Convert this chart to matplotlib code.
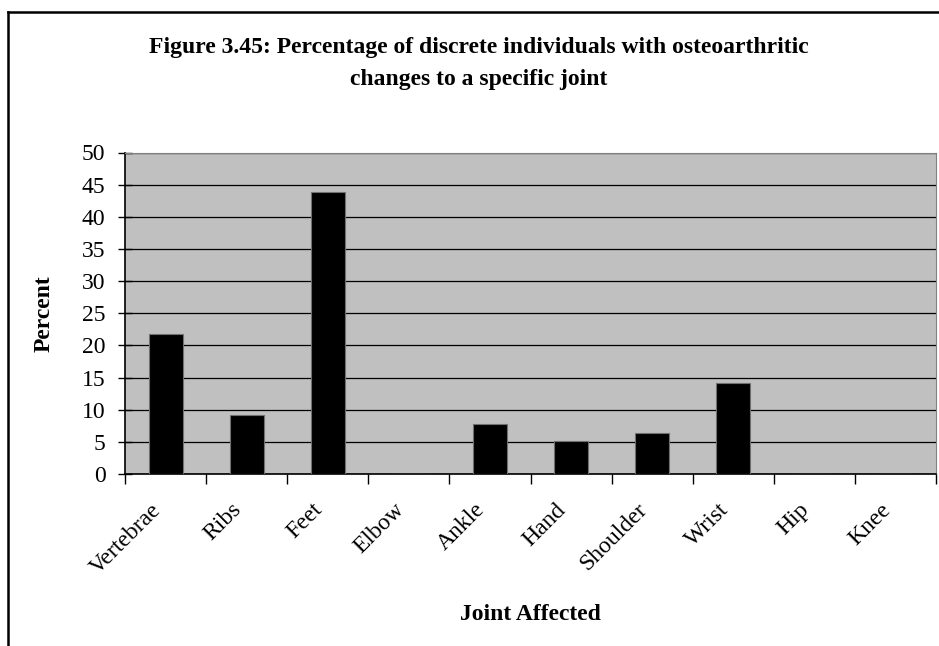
import matplotlib.pyplot as plt
from matplotlib.lines import Line2D

# Joints and percent of individuals showing osteoarthritic change
joints = ['Vertebrae', 'Ribs', 'Feet', 'Elbow', 'Ankle', 'Hand',
          'Shoulder', 'Wrist', 'Hip', 'Knee']
percent = [21.7, 9.1, 43.8, 0, 7.7, 5.1, 6.3, 14.2, 0, 0]
yticks = [0, 5, 10, 15, 20, 25, 30, 35, 40, 45, 50]

plt.rcParams['font.family'] = ['Liberation Serif', 'DejaVu Serif']

fig = plt.figure(figsize=(9.39, 6.46), dpi=100)
ax = fig.add_axes([125 / 939, 1 - 474 / 646, 811 / 939, 321.5 / 646])
ax.set_facecolor('#c0c0c0')

x = list(range(len(joints)))
ax.bar(x, percent, width=0.42, color='black', edgecolor='#707070',
       linewidth=0.8, zorder=3)

ax.set_xlim(-0.5, len(joints) - 0.5)
ax.set_ylim(0, 50)
ax.set_yticks(yticks)
ax.set_yticklabels([str(v) for v in yticks], fontsize=17)
ax.yaxis.grid(True, color='black', linewidth=0.9, zorder=1)
ax.set_axisbelow(True)

# ticks sit between categories
ax.set_xticks([i - 0.5 for i in range(len(joints) + 1)])
ax.set_xticklabels([])
ax.tick_params(axis='x', direction='out', length=7, width=1, color='black')
ax.tick_params(axis='y', direction='inout', length=10, width=1,
               color='black', pad=9)

for i, name in enumerate(joints):
    ax.text(i - 0.1, -5.1, name, rotation=45, rotation_mode='anchor',
            ha='right', va='center', fontsize=17)

for side in ['top', 'right']:
    ax.spines[side].set_color('#808080')
for side in ['left', 'bottom']:
    ax.spines[side].set_color('black')
    ax.spines[side].set_linewidth(1.2)

ax.set_ylabel('Percent', fontsize=17, fontweight='bold', labelpad=20)
fig.text(530 / 939, 1 - 615 / 646, 'Joint Affected', ha='center',
         va='center', fontsize=17, fontweight='bold')

fig.text(479 / 939, 1 - 48 / 646,
         'Figure 3.45: Percentage of discrete individuals with osteoarthritic',
         ha='center', va='center', fontsize=17, fontweight='bold')
fig.text(479 / 939, 1 - 79 / 646, 'changes to a specific joint',
         ha='center', va='center', fontsize=17, fontweight='bold')

# chart frame: left and top edges
fig.add_artist(Line2D([8 / 939, 8 / 939], [0, 1 - 12 / 646], color='black',
                      linewidth=1.8, transform=fig.transFigure))
fig.add_artist(Line2D([8 / 939, 1], [1 - 12 / 646, 1 - 12 / 646],
                      color='black', linewidth=1.8, transform=fig.transFigure))

fig.savefig('out.png', dpi=100)
